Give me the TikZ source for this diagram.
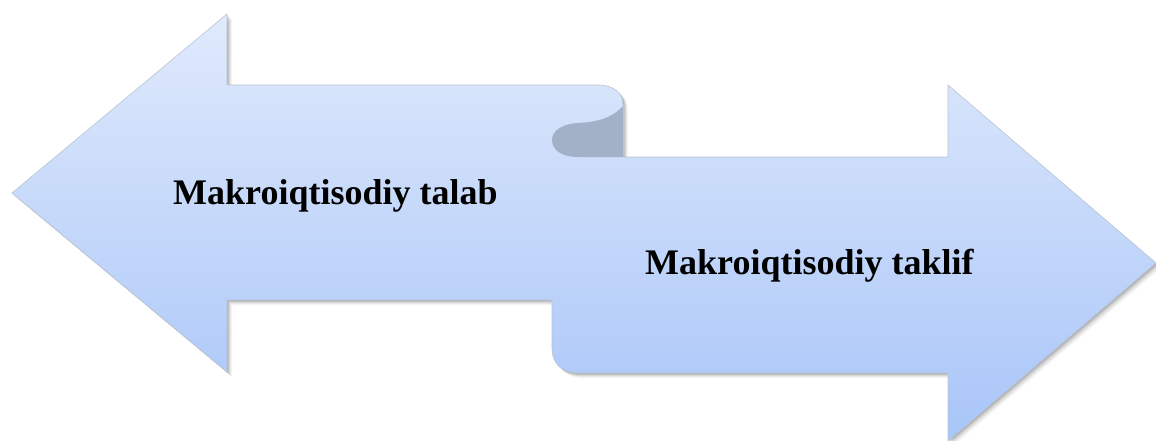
\documentclass[tikz,border=0pt]{standalone}
\usepackage{fontspec}
\setmainfont{Liberation Serif}
\usetikzlibrary{calc}
\definecolor{arrowtop}{HTML}{E0EAFC}
\definecolor{arrowbot}{HTML}{A8C5F8}
\definecolor{arrowedge}{HTML}{B9C4D4}
\definecolor{curldark}{HTML}{A2B0C8}
\tikzset{
  label/.style={font=\fontsize{36}{40}\selectfont\bfseries, inner sep=0pt, anchor=base west},
}
\begin{document}
\begin{tikzpicture}[x=1pt,y=-1pt]
  \useasboundingbox (0,0) rectangle (1156,441);
  % outline of the two opposing arrows
  \def\arrowpath{(12,193) -- (227,14) -- (227,85) -- (598,85)
      .. controls (612,85) and (623,92) .. (623,104) -- (623,157)
      -- (948,157) -- (948,85) -- (1156,263) -- (948,441) -- (948,373)
      -- (578,373) .. controls (562,373) and (552,364) .. (552,348)
      -- (552,300) -- (227,300) -- (227,372) -- cycle}
  % soft drop shadow
  \foreach \s/\o in {5/0.04,4/0.05,3/0.07,2/0.09,1/0.10}{
    \fill[black, opacity=\o, shift={(\s,\s)}] \arrowpath;
  }
  \shade[top color=arrowtop, bottom color=arrowbot, draw=arrowedge, line width=0.6pt] \arrowpath;
  % underside of the curl
  \fill[curldark] (623,106) .. controls (611,119) and (596,122) .. (578,123)
      .. controls (560,124) and (552,132) .. (552,140)
      .. controls (552,150) and (562,157) .. (578,157) -- (623,157) -- cycle;
  \draw[arrowedge, line width=0.6pt] (623,104) -- (623,157);
  % labels
  \node[label] (demand) at (173,204) {Makroiqtisodiy talab};
  \node[label] (supply) at (645,274) {Makroiqtisodiy taklif};
\end{tikzpicture}
\end{document}
